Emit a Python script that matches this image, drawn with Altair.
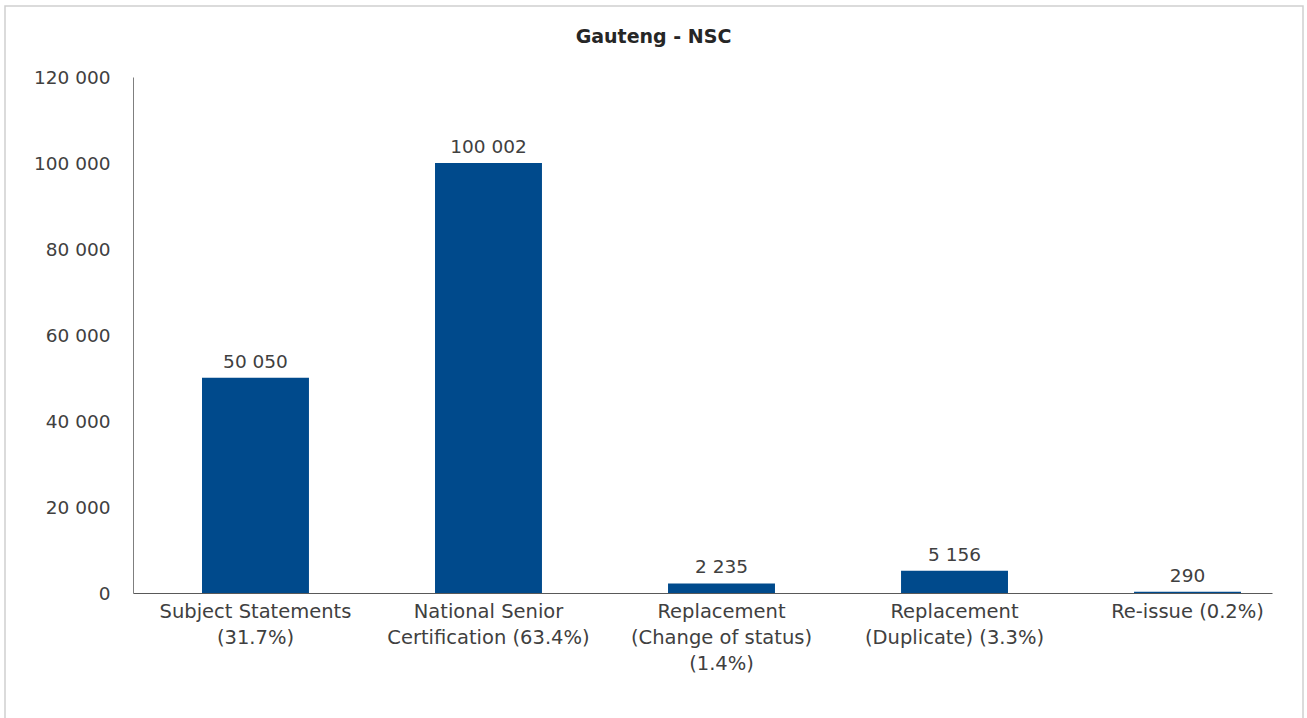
import altair as alt
import pandas as pd

categories = [
    "Subject Statements\n(31.7%)",
    "National Senior\nCertification (63.4%)",
    "Replacement\n(Change of status)\n(1.4%)",
    "Replacement\n(Duplicate) (3.3%)",
    "Re-issue (0.2%)",
]
values = [50050, 100002, 2235, 5156, 290]
y_ticks = [0, 20000, 40000, 60000, 80000, 100000, 120000]

df = pd.DataFrame({"category": categories, "value": values})

FONT = "DejaVu Sans"
W, H = 1139, 516

base = alt.Chart(df).encode(
    x=alt.X(
        "category:N",
        sort=categories,
        title=None,
        scale=alt.Scale(paddingInner=0.541, paddingOuter=0.2146, align=0.69),
        axis=alt.Axis(
            labelAngle=0,
            labelExpr="split(datum.label, '\\n')",
            labelFont=FONT,
            labelFontSize=19.5,
            labelColor="#404040",
            labelLineHeight=26,
            labelPadding=9,
            labelLimit=300,
            ticks=False,
            domainColor="#595959",
            domainWidth=1,
            grid=False,
        ),
    ),
)

bars = base.mark_bar(color="#004a8c").encode(
    y=alt.Y(
        "value:Q",
        title=None,
        scale=alt.Scale(domain=[0, 120000], nice=False),
        axis=alt.Axis(
            values=y_ticks,
            labelExpr="replace(format(datum.value, ','), ',', ' ')",
            labelFont=FONT,
            labelFontSize=18.5,
            labelColor="#404040",
            labelPadding=23,
            ticks=False,
            domainColor="#7f7f7f",
            domainWidth=1,
            grid=False,
        ),
    )
)

labels = base.mark_text(
    font=FONT, fontSize=18.5, color="#404040", baseline="bottom", dy=-6
).transform_calculate(
    lbl="replace(format(datum.value, ','), ',', ' ')"
).encode(
    y=alt.Y("value:Q"),
    text="lbl:N",
)

border = alt.Chart(pd.DataFrame({"a": [0]})).mark_rect(
    fill="transparent", stroke="#cfcfcf", strokeWidth=1.5
).encode(
    x=alt.value(-128), x2=alt.value(1170), y=alt.value(-71), y2=alt.value(660)
)

chart = alt.layer(border, bars, labels).properties(
    width=W,
    height=H,
    view=alt.ViewBackground(stroke="transparent", strokeWidth=0),
    title=alt.TitleParams(
        "Gauteng - NSC",
        font=FONT,
        fontSize=19,
        fontWeight="bold",
        color="#262626",
        anchor="middle",
        frame="group",
        dx=-49,
        offset=-42,
    ),
    autosize=alt.AutoSizeParams(type="none"),
    padding={"left": 133, "top": 77, "right": 35, "bottom": 125},
).configure_view(stroke="transparent", strokeWidth=0, strokeOpacity=0).configure(background="white")

chart.save("out.html", embed_options={"renderer": "svg", "actions": False})
